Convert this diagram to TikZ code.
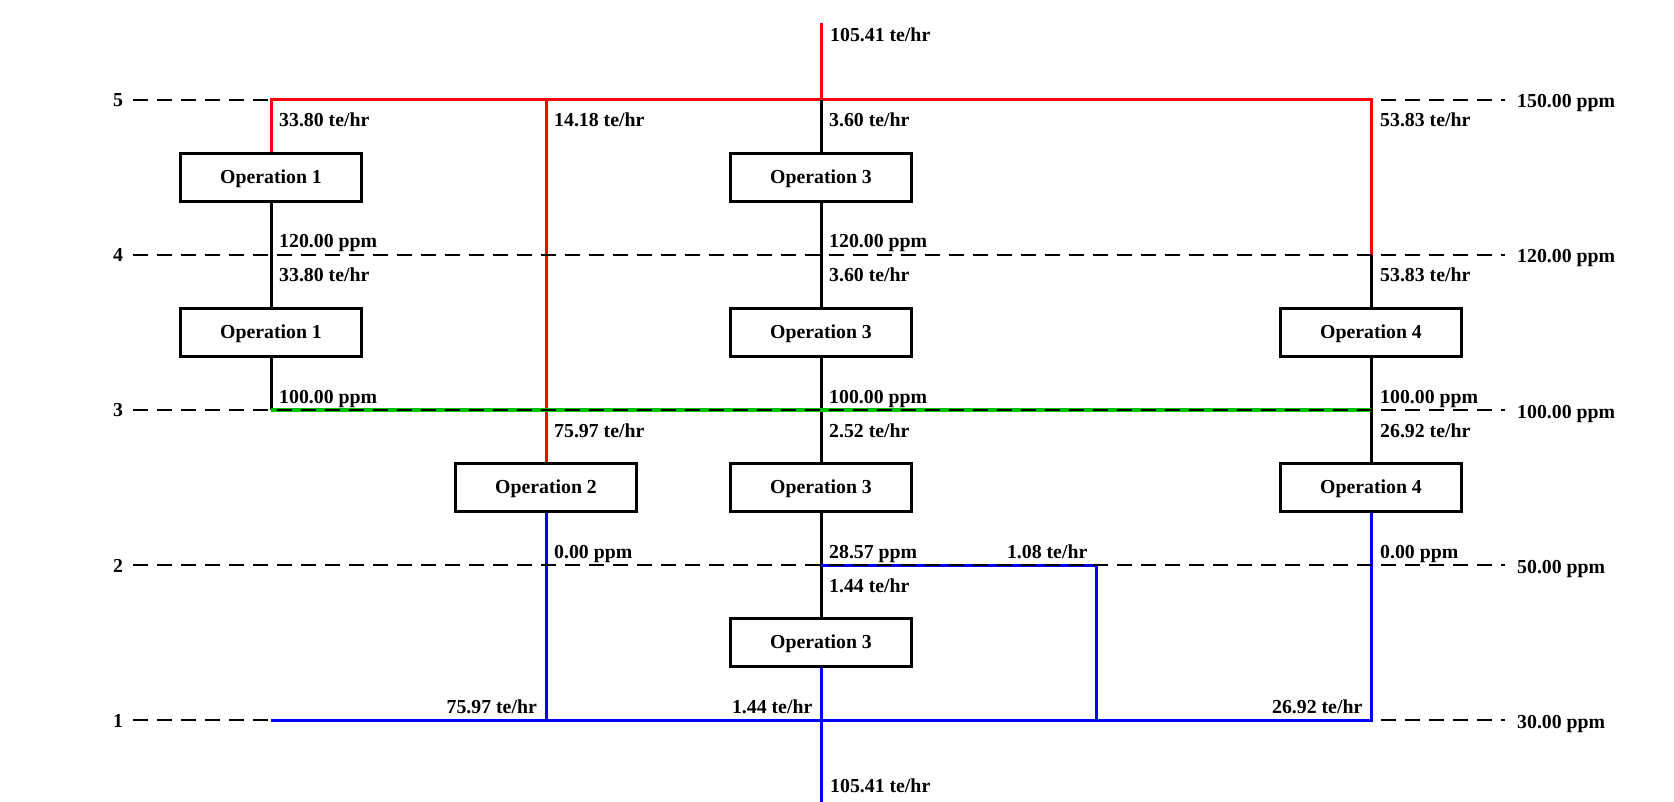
\documentclass[tikz,border=0pt]{standalone}
\usepackage{fontspec}
\setmainfont{Liberation Serif}
\definecolor{pgreen}{RGB}{0,192,0}
\begin{document}
\begin{tikzpicture}[x=1pt,y=-1pt,
  every node/.style={font=\bfseries\fontsize{19.8}{23}\selectfont, inner sep=0pt},
  opbox/.style={draw, line width=3pt, fill=white, minimum width=181pt, minimum height=48.5pt, text height=11.5pt, text depth=0pt},
  lvl/.style={draw=black, line width=1.2pt, dash pattern=on 15pt off 9pt},
  rd/.style={draw=red, line width=3pt},
  bk/.style={draw=black, line width=3pt},
  gr/.style={draw=pgreen, line width=3.4pt},
  bl/.style={draw=blue, line width=3pt},
  lw/.style={anchor=base west},
  le/.style={anchor=base east}]
\useasboundingbox (0,0) rectangle (1674,802);
% columns: 271, 546, 821, 1096, 1371 ; levels: 100,255,410,565,720
\foreach \n/\y in {5/100,4/255,3/410,2/565,1/720}{
  \coordinate (dl\n) at (133,\y);
  \coordinate (dr\n) at (1505,\y);
}
\coordinate (c1L5) at (271,100);
\coordinate (c2L5) at (546,100);
\coordinate (c3L5) at (821,100);
\coordinate (c4L5) at (1371,100);
\coordinate (c4L4) at (1371,255);
\coordinate (c1L3) at (271,410);
\coordinate (c4L3) at (1371,410);
\coordinate (c3L2) at (821,565);
\coordinate (c5L2) at (1096,565);
\coordinate (c5L1) at (1096,720);
\coordinate (c1L1) at (271,720);
\coordinate (c2L1) at (546,720);
\coordinate (c4L1) at (1371,720);
\coordinate (top3) at (821,23);
\coordinate (bot3) at (821,802);

% dashed level lines under the coloured lines
\draw[lvl] (dl5) -- (dr5);
\draw[lvl] (dl1) -- (dr1);

% operation boxes
\node[opbox] (op1a) at (271,177.5) {Operation 1};
\node[opbox] (op1b) at (271,332.5) {Operation 1};
\node[opbox] (op3a) at (821,177.5) {Operation 3};
\node[opbox] (op3b) at (821,332.5) {Operation 3};
\node[opbox] (op2)  at (546,487.5) {Operation 2};
\node[opbox] (op3c) at (821,487.5) {Operation 3};
\node[opbox] (op4b) at (1371,332.5) {Operation 4};
\node[opbox] (op4c) at (1371,487.5) {Operation 4};
\node[opbox] (op3d) at (821,642.5) {Operation 3};

% red (150 ppm) water
\draw[rd] (top3) -- (c3L5);
\draw[rd] (op1a.north) -- (c1L5) -- (c4L5) -- (c4L4);
\draw[rd] (c2L5) -- (op2.north);

% black process streams
\draw[bk] (c3L5) -- (op3a.north);
\draw[bk] (op1a.south) -- (op1b.north);
\draw[bk] (op1b.south) -- (c1L3);
\draw[bk] (op3a.south) -- (op3b.north);
\draw[bk] (op3b.south) -- (op3c.north);
\draw[bk] (op3c.south) -- (op3d.north);
\draw[bk] (c4L4) -- (op4b.north);
\draw[bk] (op4b.south) -- (op4c.north);

% green (100 ppm) header
\draw[gr] (c1L3) -- (c4L3);

% blue (30 ppm) water
\draw[bl] (op2.south) -- (c2L1);
\draw[bl] (c1L1) -- (c4L1) -- (op4c.south);
\draw[bl] (op3d.south) -- (bot3);
\draw[bl] (c3L2) -- (c5L2) -- (c5L1);

% dashed level lines over
\draw[lvl] (dl4) -- (dr4);
\draw[lvl] (dl3) -- (dr3);
\draw[lvl] (dl2) -- (dr2);

% level numbers
\node[anchor=base] (n5) at (118,107) {5};
\node[anchor=base] (n4) at (118,262) {4};
\node[anchor=base] (n3) at (118,417) {3};
\node[anchor=base] (n2) at (118,572) {2};
\node[anchor=base] (n1) at (118,727) {1};

% concentrations on the right
\node[lw] (p5) at (1517,108) {150.00 ppm};
\node[lw] (p4) at (1517,263) {120.00 ppm};
\node[lw] (p3) at (1517,418) {100.00 ppm};
\node[lw] (p2) at (1517,573) {50.00 ppm};
\node[lw] (p1) at (1517,728) {30.00 ppm};

% top / bottom flows
\node[lw] (ftop) at (830,42) {105.41 te/hr};
\node[lw] (fbot) at (830,792) {105.41 te/hr};

% column 1
\node[lw] (a1) at (279,127) {33.80 te/hr};
\node[lw] (a2) at (279,248) {120.00 ppm};
\node[lw] (a3) at (279,282) {33.80 te/hr};
\node[lw] (a4) at (279,403) {100.00 ppm};

% column 2
\node[lw] (b1) at (554,127) {14.18 te/hr};
\node[lw] (b2) at (554,437) {75.97 te/hr};
\node[lw] (b3) at (554,558) {0.00 ppm};
\node[le] (b4) at (537,713) {75.97 te/hr};

% column 3
\node[lw] (d1) at (829,127) {3.60 te/hr};
\node[lw] (d2) at (829,248) {120.00 ppm};
\node[lw] (d3) at (829,282) {3.60 te/hr};
\node[lw] (d4) at (829,403) {100.00 ppm};
\node[lw] (d5) at (829,437) {2.52 te/hr};
\node[lw] (d6) at (829,558) {28.57 ppm};
\node[lw] (d7) at (829,592) {1.44 te/hr};
\node[le] (d8) at (812.5,713) {1.44 te/hr};
\node[le] (d9) at (1087.5,558) {1.08 te/hr};

% column 4
\node[lw] (e1) at (1380,127) {53.83 te/hr};
\node[lw] (e2) at (1380,282) {53.83 te/hr};
\node[lw] (e3) at (1380,403) {100.00 ppm};
\node[lw] (e4) at (1380,437) {26.92 te/hr};
\node[lw] (e5) at (1380,558) {0.00 ppm};
\node[le] (e6) at (1362.5,713) {26.92 te/hr};
\end{tikzpicture}
\end{document}
